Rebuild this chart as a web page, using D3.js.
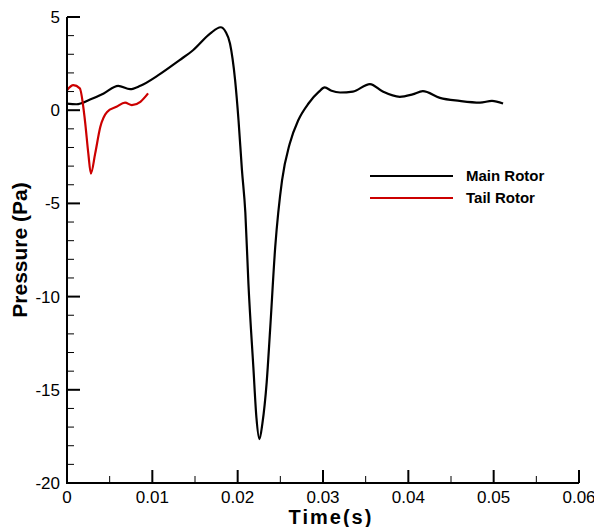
<!DOCTYPE html>
<html>
<head>
<meta charset="utf-8">
<script src="https://cdn.jsdelivr.net/npm/d3@7"></script>
<style>
  body { margin: 0; background: #fff; }
  text { font-family: "Liberation Sans", Arial, sans-serif; }
</style>
</head>
<body>
<div id="viz"></div>
<script>
// series: [time (s), pressure (Pa)]
const mainTime = [0, 0.0011, 0.0027, 0.0043, 0.006, 0.0074, 0.0086, 0.0107, 0.0132, 0.0148, 0.0168, 0.018, 0.0186,
  0.0191, 0.0197, 0.0201, 0.0205, 0.0209, 0.02126, 0.02184, 0.0222, 0.02255, 0.0229, 0.0234, 0.0238, 0.0244,
  0.0252, 0.0261, 0.0271, 0.0283, 0.0295, 0.0302, 0.031, 0.032, 0.0335, 0.0355, 0.037, 0.039, 0.0405, 0.0417,
  0.0437, 0.046, 0.0484, 0.0498, 0.0511];
const mainP = [0.35, 0.32, 0.57, 0.9, 1.31, 1.13, 1.31, 1.88, 2.69, 3.23, 4.12, 4.45, 4.2,
  3.58, 1.61, -0.54, -3.2, -5.5, -9.3, -13.8, -16.5, -17.65, -16.8, -14.6, -11.8, -7.35,
  -3.76, -1.8, -0.54, 0.36, 0.98, 1.22, 1.04, 0.95, 1.0, 1.4, 1.0, 0.72, 0.85, 1.02,
  0.66, 0.5, 0.41, 0.5, 0.36];

const tailTime = [0, 0.00074, 0.0015, 0.0021, 0.0025, 0.0028, 0.0033, 0.0039, 0.0047, 0.0058, 0.0068, 0.0076, 0.0086, 0.0095];
const tailP = [1.07, 1.34, 1.17, -0.54, -2.33, -3.4, -2.33, -0.9, -0.09, 0.18, 0.41, 0.27, 0.45, 0.9];

const seriesNames = ["Main Rotor", "Tail Rotor"];
const seriesColors = ["#000000", "#cc0000"];

const xMajor = [0, 0.01, 0.02, 0.03, 0.04, 0.05, 0.06];
const xMinor = [0.005, 0.015, 0.025, 0.035, 0.045, 0.055];
const yMajor = [-20, -15, -10, -5, 0, 5];

const w = 594, h = 527;
const margin = {left: 67, top: 17};

const svg = d3.select("#viz").append("svg").attr("width", w).attr("height", h);

const x = d3.scaleLinear().domain([0, 0.06]).range([margin.left, 579]);
const y = d3.scaleLinear().domain([-20, 5]).range([483, margin.top]);

const yMinor = d3.range(-20, 5.01, 1).filter(v => yMajor.indexOf(v) < 0);

// lines
const line = d3.line().x(d => x(d[0])).y(d => y(d[1])).curve(d3.curveMonotoneX);
const mainData = mainTime.map((t, i) => [t, mainP[i]]);
const tailData = tailTime.map((t, i) => [t, tailP[i]]);

svg.append("path").datum(mainData).attr("d", line)
  .attr("fill", "none").attr("stroke", seriesColors[0]).attr("stroke-width", 2.2);
svg.append("path").datum(tailData).attr("d", line)
  .attr("fill", "none").attr("stroke", seriesColors[1]).attr("stroke-width", 2.2);

// y axis, ticks pointing inward
const yAxis = svg.append("g").attr("transform", `translate(${margin.left},0)`);
yAxis.selectAll(".minor").data(yMinor).enter().append("line")
  .attr("x1", 0).attr("x2", 7).attr("y1", d => y(d)).attr("y2", d => y(d))
  .attr("stroke", "#000").attr("stroke-width", 1);
yAxis.selectAll(".major").data(yMajor).enter().append("line")
  .attr("x1", 0).attr("x2", 13).attr("y1", d => y(d)).attr("y2", d => y(d))
  .attr("stroke", "#000").attr("stroke-width", 2);
yAxis.selectAll("text").data(yMajor).enter().append("text")
  .attr("x", -7).attr("y", d => y(d) + 6)
  .attr("text-anchor", "end").style("font-size", "17px")
  .text(d => d);
yAxis.append("line").attr("x1", 0).attr("x2", 0).attr("y1", y(5)).attr("y2", y(-20) + 1)
  .attr("stroke", "#000").attr("stroke-width", 2);

// x axis
const xAxis = svg.append("g").attr("transform", `translate(0,${y(-20)})`);
xAxis.selectAll(".minor").data(xMinor).enter().append("line")
  .attr("x1", d => x(d)).attr("x2", d => x(d)).attr("y1", 0).attr("y2", -7)
  .attr("stroke", "#000").attr("stroke-width", 1);
xAxis.selectAll(".major").data(xMajor).enter().append("line")
  .attr("x1", d => x(d)).attr("x2", d => x(d)).attr("y1", 0).attr("y2", -13)
  .attr("stroke", "#000").attr("stroke-width", 2);
xAxis.selectAll("text").data(xMajor).enter().append("text")
  .attr("x", d => x(d)).attr("y", 20)
  .attr("text-anchor", "middle").style("font-size", "17px")
  .text(d => d);
xAxis.append("line").attr("x1", x(0) - 1).attr("x2", x(0.06)).attr("y1", 0).attr("y2", 0)
  .attr("stroke", "#000").attr("stroke-width", 2);

// titles
svg.append("text").attr("x", 331).attr("y", 524)
  .attr("text-anchor", "middle").style("font-size", "20px").style("font-weight", "bold")
  .style("letter-spacing", "2px")
  .text("Time(s)");
svg.append("text").attr("transform", "translate(27,250) rotate(-90)")
  .attr("text-anchor", "middle").style("font-size", "21px").style("font-weight", "bold")
  .text("Pressure (Pa)");

// legend
const legend = svg.append("g").attr("id", "legend");
seriesNames.forEach((name, i) => {
  const ly = 176 + i * 22;
  legend.append("line").attr("x1", 370).attr("x2", 453).attr("y1", ly).attr("y2", ly)
    .attr("stroke", seriesColors[i]).attr("stroke-width", 2);
  legend.append("text").attr("x", 466).attr("y", ly + 5)
    .style("font-size", "15px").style("font-weight", "bold")
    .text(name);
});
</script>
</body>
</html>
